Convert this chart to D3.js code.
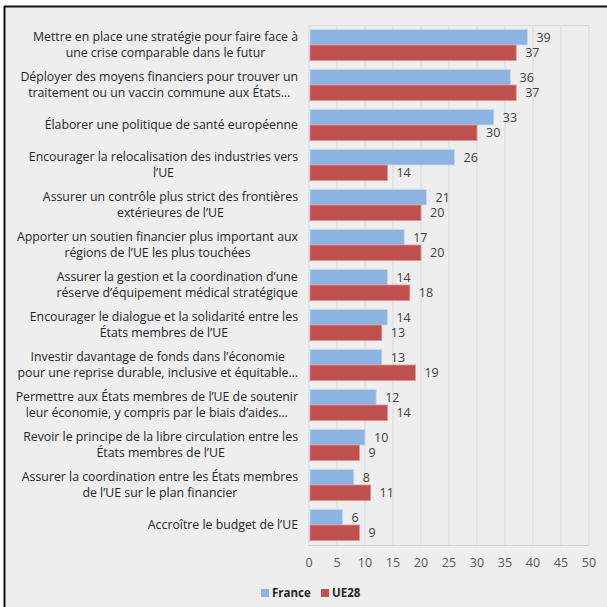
<!DOCTYPE html>
<html>
<head>
<meta charset="utf-8">
<script src="https://cdn.jsdelivr.net/npm/d3@7"></script>
<style>
  body { margin: 0; background: #ffffff; }
  svg { display: block; font-family: "Open Sans", "Liberation Sans", Arial, sans-serif; }
</style>
</head>
<body>
<svg class="chart"></svg>
<script>
// categories (each entry = wrapped lines, as in the original)
var categories = [
  ["Mettre en place une stratégie pour faire face à", "une crise comparable dans le futur"],
  ["Déployer des moyens financiers pour trouver un", "traitement ou un vaccin commune aux États…"],
  ["Élaborer une politique de santé européenne"],
  ["Encourager la relocalisation des industries vers", "l’UE"],
  ["Assurer un contrôle plus strict des frontières", "extérieures de l’UE"],
  ["Apporter un soutien financier plus important aux", "régions de l’UE les plus touchées"],
  ["Assurer la gestion et la coordination d’une", "réserve d’équipement médical stratégique"],
  ["Encourager le dialogue et la solidarité entre les", "États membres de l’UE"],
  ["Investir davantage de fonds dans l’économie", "pour une reprise durable, inclusive et équitable…"],
  ["Permettre aux États membres de l’UE de soutenir", "leur économie, y compris par le biais d’aides…"],
  ["Revoir le principe de la libre circulation entre les", "États membres de l’UE"],
  ["Assurer la coordination entre les États membres", "de l’UE sur le plan financier"],
  ["Accroître le budget de l’UE"]
];
var seriesNames = ["France", "UE28"];
var franceValues = [39, 36, 33, 26, 21, 17, 14, 14, 13, 12, 10, 8, 6];
var ue28Values   = [37, 37, 30, 14, 20, 20, 18, 13, 19, 14, 9, 11, 9];
var xTicks = [0, 5, 10, 15, 20, 25, 30, 35, 40, 45, 50];

var colors = {"France": "#8db3e2", "UE28": "#c0504d"};

var W = 607, H = 607;
var svg = d3.select(".chart").attr("width", W).attr("height", H);

// chart frame
svg.append("rect").attr("x", 4).attr("y", 6).attr("width", W).attr("height", H)
  .attr("fill", "#eeeeee");
svg.append("line").attr("x1", 4).attr("x2", W).attr("y1", 6.5).attr("y2", 6.5)
  .attr("stroke", "#111").attr("stroke-width", 2);
svg.append("line").attr("x1", 4.5).attr("x2", 4.5).attr("y1", 6).attr("y2", H)
  .attr("stroke", "#111").attr("stroke-width", 2);

var margin = {top: 25, left: 309};
var width = 280, height = 520;

var chart = svg.append("g")
  .attr("transform", "translate(" + margin.left + "," + margin.top + ")");

var data = categories.map(function(c, i) {
  return {id: i, lines: c, France: franceValues[i], UE28: ue28Values[i]};
});

var xChart = d3.scaleLinear().domain([0, 50]).range([0, width]);
var yChart = d3.scaleBand().domain(data.map(function(d) { return d.id; }))
  .range([0, height]).paddingInner(0.22).paddingOuter(0.11);
var ySub = d3.scaleBand().domain(seriesNames).range([0, yChart.bandwidth()]);

//gridlines
chart.selectAll(".grid")
  .data(xTicks)
  .enter().append("line")
  .attr("x1", function(d) { return xChart(d); })
  .attr("x2", function(d) { return xChart(d); })
  .attr("y1", 0).attr("y2", height)
  .attr("stroke", "#d9d9d9").attr("stroke-width", 1);
chart.append("line").attr("x1", 0).attr("x2", width).attr("y1", 0.5).attr("y2", 0.5)
  .attr("stroke", "#d9d9d9");

//bars
var groups = chart.selectAll(".group")
  .data(data)
  .enter().append("g")
  .attr("transform", function(d) { return "translate(0," + yChart(d.id) + ")"; });

groups.selectAll("rect")
  .data(function(d) { return seriesNames.map(function(s) { return {key: s, value: d[s]}; }); })
  .enter().append("rect")
  .attr("x", xChart(0) + 1)
  .attr("y", function(d) { return ySub(d.key); })
  .attr("width", function(d) { return xChart(d.value) - xChart(0) - 1; })
  .attr("height", ySub.bandwidth())
  .attr("fill", function(d) { return colors[d.key]; })
  .attr("stroke", function(d) { return d.key == "France" ? "#c6d9f1" : "#d99694"; })
  .attr("stroke-width", 0.8);

//value labels
groups.selectAll(".val")
  .data(function(d) { return seriesNames.map(function(s) { return {key: s, value: d[s]}; }); })
  .enter().append("text")
  .attr("x", function(d) { return xChart(d.value) + 9; })
  .attr("y", function(d) { return ySub(d.key) + ySub.bandwidth() / 2; })
  .attr("dy", "0.35em")
  .attr("font-size", "12.5px")
  .attr("fill", "#404040")
  .text(function(d) { return d.value; });

//bottom axis
chart.append("line").attr("x1", 0).attr("x2", width).attr("y1", height + 0.5).attr("y2", height + 0.5)
  .attr("stroke", "#d0d0d0");
chart.selectAll(".tick")
  .data(xTicks)
  .enter().append("text")
  .attr("x", function(d) { return xChart(d); })
  .attr("y", height + 18)
  .attr("dy", "0.35em")
  .attr("text-anchor", "middle")
  .attr("font-size", "12.5px")
  .attr("fill", "#595959")
  .text(function(d) { return d; });

//category labels: lines centred on each other, block right-aligned
var labelRight = 298;
groups.each(function(d) {
  var g = d3.select(this);
  var n = d.lines.length;
  var cy = yChart.bandwidth() / 2;
  var texts = d.lines.map(function(line, k) {
    return g.append("text")
      .attr("y", cy + (k - (n - 1) / 2) * 16)
      .attr("dy", "0.35em")
      .attr("text-anchor", "middle")
      .attr("font-size", "12.3px")
      .attr("fill", "#262626")
      .text(line);
  });
  var maxW = d3.max(texts, function(t) { return t.node().getComputedTextLength(); });
  texts.forEach(function(t) { t.attr("x", labelRight - margin.left - maxW / 2); });
});

//legend
var legend = svg.append("g").attr("transform", "translate(261,589)");
var legX = [0, 60];
seriesNames.forEach(function(s, i) {
  legend.append("rect").attr("x", legX[i]).attr("y", 0).attr("width", 8).attr("height", 8)
    .attr("fill", colors[s]);
  legend.append("text").attr("x", legX[i] + 11).attr("y", 4).attr("dy", "0.35em")
    .attr("font-size", "11.5px").attr("font-weight", "bold").attr("fill", "#262626")
    .text(s);
});
</script>
</body>
</html>
